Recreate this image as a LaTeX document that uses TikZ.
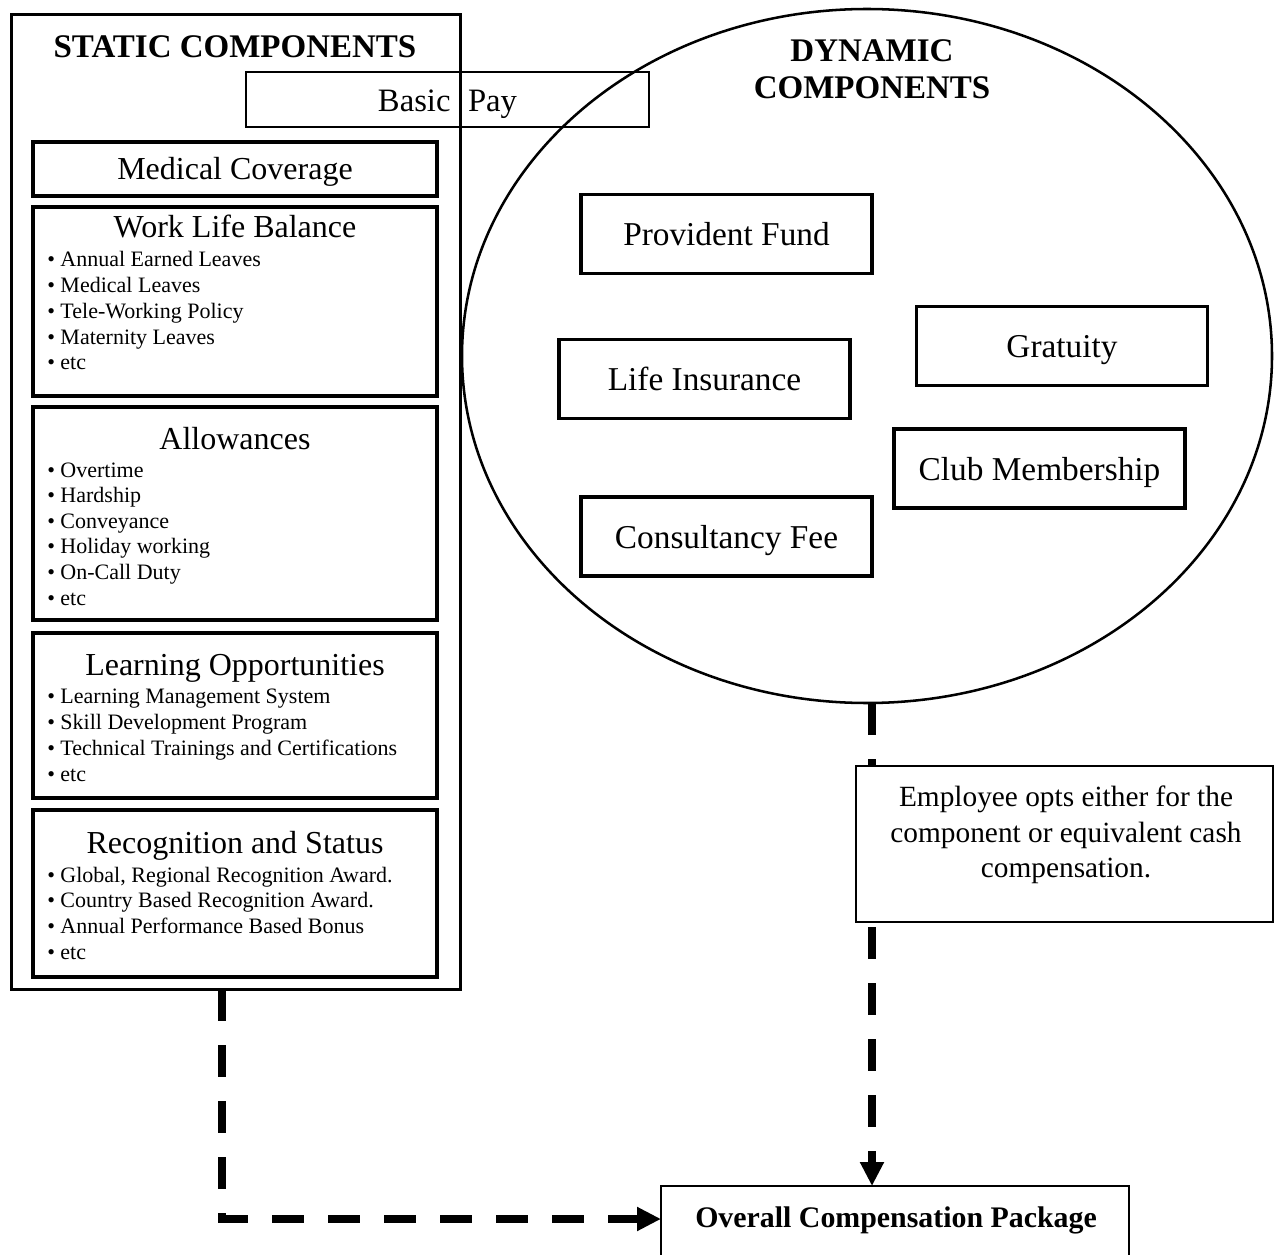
\documentclass[tikz,border=0pt]{standalone}
\usepackage{fontspec}
\setmainfont{Liberation Serif}
\usetikzlibrary{arrows.meta,shapes.geometric}
\begin{document}
\begin{tikzpicture}[x=0.75pt,y=-0.75pt,
  rbox/.style={draw, rectangle, inner sep=0pt, outer sep=0pt},
  sub/.style={rbox, line width=2.5pt, minimum width=303pt},
  hdr/.style={font=\bfseries\fontsize{24.75}{29.5}\selectfont, inner sep=0pt, anchor=base},
  ttl/.style={font=\fontsize{24}{28}\selectfont, inner sep=0pt, anchor=base},
  bul/.style={font=\fontsize{16.5}{19}\selectfont, inner sep=0pt, anchor=base west},
  dbox/.style={rbox, line width=2.4pt, minimum width=218.25pt, minimum height=59.25pt,
    font=\fontsize{25}{30}\selectfont, text height=17.5pt, text depth=0pt},
  etxt/.style={font=\fontsize{22}{26}\selectfont, inner sep=0pt, anchor=base},
  dconn/.style={line width=6pt, dash pattern=on 24pt off 18pt,
    -{Triangle[length=18pt,width=17pt]}}
]
\clip (0,0) rectangle (1275,1255);
\fill[white] (0,0) rectangle (1275,1255);

% static components
\node[rbox, line width=2.25pt, minimum width=336.75pt, minimum height=730.5pt] (static) at (235.5,502) {};
\node[hdr] (stitle) at (235,58) {STATIC COMPONENTS};
\node[rbox, line width=2pt, minimum width=302.25pt, minimum height=41.25pt,
  text height=18.75pt, text depth=0pt, font=\fontsize{24.5}{29}\selectfont] (basic) at (447.5,99.5) {Basic\hspace{7pt} Pay};
\node[sub, minimum height=40.5pt, text height=16.5pt, text depth=0pt,
  font=\fontsize{24}{28}\selectfont] (med) at (235,169) {Medical Coverage};

\node[sub, minimum height=141.75pt] (wlb) at (235,301.5) {};
\node[ttl] (wlbt) at (235,238) {Work Life Balance};
\foreach \t [count=\i] in {Annual Earned Leaves,Medical Leaves,Tele-Working Policy,Maternity Leaves,etc}
  \node[bul] (wlb\i) at (47,{267+(\i-1)*25.7}) {\textbullet\ \t};

\node[sub, minimum height=159.75pt] (alw) at (235,513.5) {};
\node[ttl] (alwt) at (235,449) {Allowances};
\foreach \t [count=\i] in {Overtime,Hardship,Conveyance,Holiday working,On-Call Duty,etc}
  \node[bul] (alw\i) at (47,{477+(\i-1)*25.6}) {\textbullet\ \t};

\node[sub, minimum height=123.75pt] (lrn) at (235,715.5) {};
\node[ttl] (lrnt) at (235,675) {Learning Opportunities};
\foreach \t [count=\i] in {Learning Management System,Skill Development Program,Technical Trainings and Certifications,etc}
  \node[bul] (lrn\i) at (47,{703+(\i-1)*26}) {\textbullet\ \t};

\node[sub, minimum height=125.25pt] (rec) at (235,893.5) {};
\node[ttl] (rect) at (235,853) {Recognition and Status};
\foreach \t [count=\i] in {{Global, Regional Recognition Award.},Country Based Recognition Award.,Annual Performance Based Bonus,etc}
  \node[bul] (rec\i) at (47,{882+(\i-1)*25.7}) {\textbullet\ \t};

% dynamic components
\node[draw, ellipse, line width=1.9pt, minimum width=607.5pt, minimum height=520.5pt,
  inner sep=0pt, outer sep=0pt] (dyn) at (867,356) {};
\node[hdr] (dt1) at (872,62) {DYNAMIC};
\node[hdr] (dt2) at (872,99) {COMPONENTS};
\node[dbox] (pf) at (726.5,234) {Provident Fund};
\node[dbox] (gr) at (1062,346) {Gratuity};
\node[dbox] (li) at (704.5,379) {Life Insurance};
\node[dbox] (cm) at (1039.5,468.5) {Club Membership};
\node[dbox] (cf) at (726.5,536.5) {Consultancy Fee};

% overall
\node[rbox, line width=1.5pt, minimum width=351pt, minimum height=54pt] (overall) at (895,1222) {};
\node[font=\bfseries\fontsize{22.4}{27}\selectfont, inner sep=0pt, anchor=base] (ovt) at (896,1227) {Overall Compensation Package};

% connectors
\coordinate (rx) at (872,0);
\draw[dconn] (dyn.south -| rx) -- (overall.north -| rx);
\draw[dconn] ([xshift=158.25pt]static.south west) |- ([yshift=2.25pt]overall.west);

% employee note
\node[rbox, fill=white, line width=1.5pt, minimum width=312.75pt, minimum height=117pt] (emp) at (1064.5,844) {};
\node[etxt] (e1) at (1066,806) {Employee opts either for the};
\node[etxt] (e2) at (1066,842) {component or equivalent cash};
\node[etxt] (e3) at (1066,877) {compensation.};
\end{tikzpicture}
\end{document}
